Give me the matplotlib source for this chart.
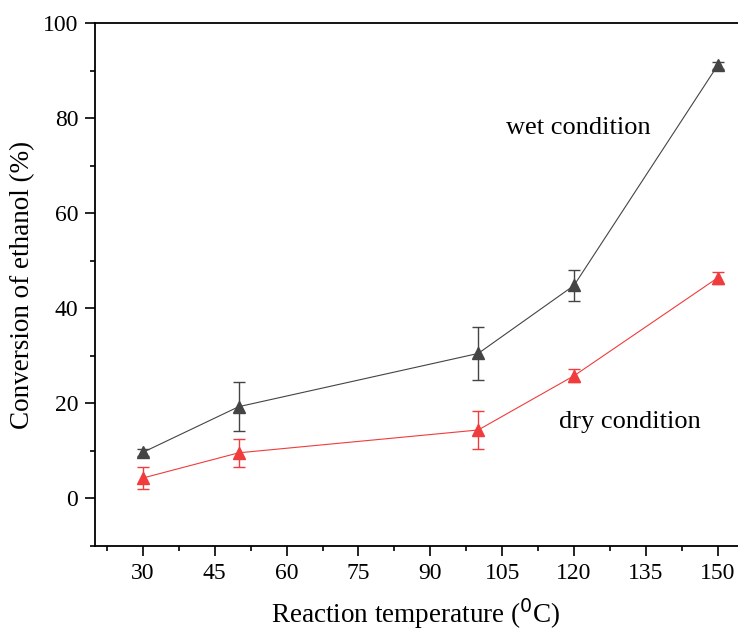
import matplotlib
matplotlib.use("Agg")
import matplotlib.pyplot as plt
from matplotlib.ticker import MultipleLocator

temps = [30, 50, 100, 120, 150]
wet = [9.7, 19.3, 30.5, 44.8, 91.1]
wet_err = [0.8, 5.2, 5.6, 3.3, 0.8]
dry = [4.3, 9.6, 14.4, 25.8, 46.4]
dry_err = [2.4, 3.0, 4.0, 1.4, 1.2]

plt.rcParams['font.family'] = ['Liberation Serif', 'DejaVu Serif']

fig = plt.figure(figsize=(7.38, 6.31), dpi=100)
# right spine sits off the canvas in the original, so the axes run past the edge
ax = fig.add_axes([95 / 738, 1 - 546 / 631, 670.6 / 738, 523 / 631])

ax.errorbar(temps, wet, yerr=wet_err, color='#444444', marker='^', ms=8,
            lw=0.8, elinewidth=1.0, capsize=4, capthick=1.0)
ax.errorbar(temps, dry, yerr=dry_err, color='#f03c3c', marker='^', ms=8,
            lw=0.8, elinewidth=1.0, capsize=4, capthick=1.0)

ax.set_xlim(20, 160)
ax.set_ylim(-10, 100)
ax.xaxis.set_major_locator(MultipleLocator(15))
ax.xaxis.set_minor_locator(MultipleLocator(7.5))
ax.yaxis.set_major_locator(MultipleLocator(20))
ax.yaxis.set_minor_locator(MultipleLocator(10))
ax.set_xticks([30, 45, 60, 75, 90, 105, 120, 135, 150])

ax.tick_params(which='both', direction='out', width=1.2, labelsize=17)
ax.tick_params(which='major', length=7)
ax.tick_params(which='minor', length=3.6)
ax.tick_params(axis='x', pad=5)
ax.tick_params(axis='y', pad=5)
for s in ['left', 'bottom', 'top']:
    ax.spines[s].set_linewidth(1.3)
ax.spines['right'].set_visible(False)

ax.set_xlabel('Reaction temperature ($^{0}$C)', fontsize=19.5)
ax.set_ylabel('Conversion of ethanol (%)', fontsize=19.5)
ax.xaxis.set_label_coords(0.478, -0.096)
ax.yaxis.set_label_coords(-0.09, 0.5)

ax.text(121, 78, 'wet condition', fontsize=19, ha='center', va='center')
ax.text(131.7, 16, 'dry condition', fontsize=19, ha='center', va='center')

fig.savefig('out.png', dpi=100)
